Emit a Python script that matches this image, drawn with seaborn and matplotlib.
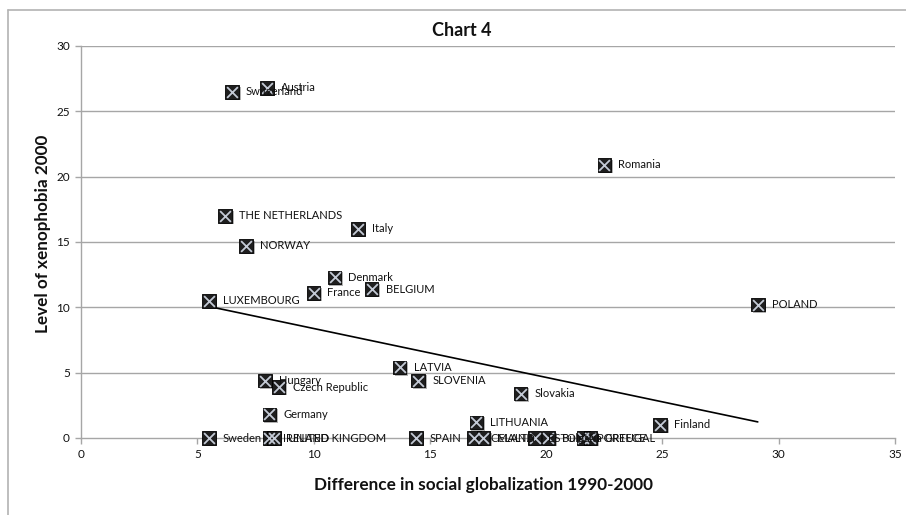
import matplotlib
matplotlib.use("Agg")
import matplotlib.pyplot as plt
import matplotlib.patheffects as pe
from matplotlib.lines import Line2D
import seaborn as sns
import pandas as pd

countries = [
    "Austria", "Switzerland", "Romania", "THE NETHERLANDS", "Italy", "NORWAY",
    "Denmark", "France", "BELGIUM", "LUXEMBOURG", "POLAND", "LATVIA",
    "Hungary", "Czech Republic", "SLOVENIA", "Slovakia", "Germany",
    "LITHUANIA", "Finland", "Sweden", "IRELAND", "UNITED KINGDOM", "SPAIN",
    "ICELAND", "MALTA", "ESTONIA", "Bulgaria", "PORTUGAL", "GREECE",
]
globalization_diff = [
    8.0, 6.5, 22.5, 6.2, 11.9, 7.1,
    10.9, 10.0, 12.5, 5.5, 29.1, 13.7,
    7.9, 8.5, 14.5, 18.9, 8.1,
    17.0, 24.9, 5.5, 8.1, 8.3, 14.4,
    16.9, 17.3, 19.5, 20.1, 21.6, 21.9,
]
xenophobia = [
    26.8, 26.5, 20.9, 17.0, 16.0, 14.7,
    12.3, 11.1, 11.4, 10.5, 10.2, 5.4,
    4.4, 3.9, 4.4, 3.4, 1.8,
    1.2, 1.0, 0.0, 0.0, 0.0, 0.0,
    0.0, 0.0, 0.0, 0.0, 0.0, 0.0,
]
x_ticks = [0, 5, 10, 15, 20, 25, 30, 35]
y_ticks = [0, 5, 10, 15, 20, 25, 30]

df = pd.DataFrame({"country": countries, "glob": globalization_diff, "xeno": xenophobia})

sns.set_theme(style="white")
plt.rcParams["font.family"] = ["Lato", "DejaVu Sans"]

W, H = 906, 515
fig = plt.figure(figsize=(W / 100, H / 100), dpi=100)
ax = fig.add_axes([81 / W, 1 - 438 / H, (895 - 81) / W, (438 - 46) / H])

grid_c = "#a6a6a6"
for yv in y_ticks[1:]:
    ax.axhline(yv, color=grid_c, lw=1.0, zorder=0)

# linear trend line over the data range
sns.regplot(data=df, x="glob", y="xeno", ax=ax, scatter=False, ci=None,
            truncate=True, line_kws=dict(color="black", lw=1.2, zorder=2))

shadow = [pe.SimplePatchShadow(offset=(1.2, -1.2), alpha=0.45, shadow_rgbFace="#555555"), pe.Normal()]
sns.scatterplot(data=df, x="glob", y="xeno", ax=ax, marker="s", s=95,
                color="#1e1e1e", edgecolor="black", linewidth=0.6,
                clip_on=False, zorder=3)
ax.collections[-1].set_path_effects(shadow)
sns.scatterplot(data=df, x="glob", y="xeno", ax=ax, marker="x", s=60,
                color="#c4cad6", linewidth=1.3, clip_on=False, zorder=4)

for name, xv, yv in zip(countries, globalization_diff, xenophobia):
    ax.annotate(name, (xv, yv), xytext=(10, 0), textcoords="offset points",
                va="center", ha="left", fontsize=8, color="#111111",
                zorder=5, annotation_clip=False)

ax.set_xlim(0, 35)
ax.set_ylim(0, 30)
ax.set_xticks(x_ticks)
ax.set_yticks(y_ticks)
ax.tick_params(axis="both", which="both", direction="out", length=4,
               width=1, color=grid_c, labelsize=8.5, labelcolor="#111111", pad=4,
               bottom=True, left=True)
for side in ("top", "right"):
    ax.spines[side].set_visible(False)
for side in ("left", "bottom"):
    ax.spines[side].set_color(grid_c)
    ax.spines[side].set_linewidth(1.0)

ax.set_xlabel("Difference in social globalization 1990-2000", fontsize=12.3,
              fontweight="bold", color="#111111", va="center")
ax.set_ylabel("Level of xenophobia 2000", fontsize=12.3, fontweight="bold",
              color="#111111", va="center")
ax.xaxis.set_label_coords((484 - 81) / 814, (438 - 485) / 392)
ax.yaxis.set_label_coords((43 - 81) / 814, (438 - 234) / 392)
fig.text(462 / W, 1 - 30 / H, "Chart 4", ha="center", va="center",
         fontsize=13, fontweight="bold", color="#111111")

# chart-area border
bx, by = 8 / W, 1 - 10 / H
fig.add_artist(Line2D([bx, 1], [by, by], color="#b3b3b3", lw=1.2, transform=fig.transFigure))
fig.add_artist(Line2D([bx, bx], [0, by], color="#b3b3b3", lw=1.2, transform=fig.transFigure))

fig.savefig("out.png", dpi=100)
